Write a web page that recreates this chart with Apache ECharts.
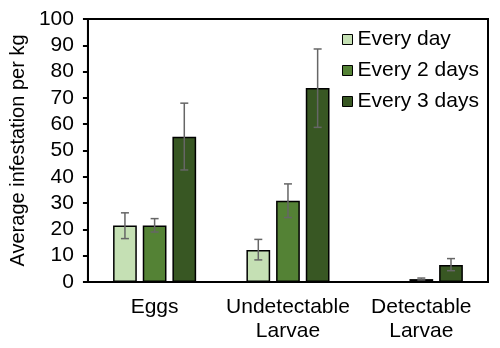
<!DOCTYPE html>
<html>
<head>
<meta charset="utf-8">
<script src="https://cdn.jsdelivr.net/npm/echarts@6/dist/echarts.min.js"></script>
<style>
  html, body { margin: 0; padding: 0; background: #fff; }
  #main { width: 500px; height: 348px; }
</style>
</head>
<body>
<div id="main"></div>
<script>
// categories and series
var categories = ['Eggs', 'Undetectable\nLarvae', 'Detectable\nLarvae'];
var seriesNames = ['Every day', 'Every 2 days', 'Every 3 days'];
var colors = ['#c5e0b4', '#548235', '#385723'];

var everyDay   = [21.5, 12.2, 0];
var every2Days = [21.5, 30.9, 1.1];
var every3Days = [55.2, 73.8, 6.5];

// error bar low/high
var errEveryDay   = [[16.5, 26.3], [8.4, 16.2], null];
var errEvery2Days = [[19.0, 24.1], [24.5, 37.3], [0.8, 1.5]];
var errEvery3Days = [[42.6, 68.0], [58.8, 88.6], [4.3, 8.9]];

var values = [everyDay, every2Days, every3Days];
var errors = [errEveryDay, errEvery2Days, errEvery3Days];

var BAR_FRAC = 0.178;
var GAP_FRAC = 0.25;

function errorSeries(idx) {
    var data = [];
    errors[idx].forEach(function (e, i) {
        if (e) data.push([i, e[0], e[1]]);
    });
    return {
        type: 'custom',
        name: seriesNames[idx] + ' err',
        data: data,
        z: 10,
        silent: true,
        renderItem: function (params, api) {
            var band = api.size([1, 0])[0];
            var bw = band * BAR_FRAC;
            var off = (idx - 1) * bw * (1 + GAP_FRAC);
            var lo = api.coord([api.value(0), api.value(1)]);
            var hi = api.coord([api.value(0), api.value(2)]);
            var x = lo[0] + off;
            var cap = 4;
            var style = {stroke: '#666', lineWidth: 1.5};
            return {
                type: 'group',
                children: [
                    {type: 'line', shape: {x1: x, y1: lo[1], x2: x, y2: hi[1]}, style: style},
                    {type: 'line', shape: {x1: x - cap, y1: lo[1], x2: x + cap, y2: lo[1]}, style: style},
                    {type: 'line', shape: {x1: x - cap, y1: hi[1], x2: x + cap, y2: hi[1]}, style: style}
                ]
            };
        }
    };
}

var series = [];
values.forEach(function (v, i) {
    series.push({
        type: 'bar',
        name: seriesNames[i],
        data: v,
        barWidth: (BAR_FRAC * 100) + '%',
        barGap: (GAP_FRAC * 100) + '%',
        itemStyle: {color: colors[i], borderColor: '#000', borderWidth: 1.5}
    });
});
[0, 1, 2].forEach(function (i) { series.push(errorSeries(i)); });

var chart = echarts.init(document.getElementById('main'));
chart.setOption({
    animation: false,
    textStyle: {fontFamily: 'Liberation Sans, Arial, sans-serif'},
    grid: {
        left: 83, right: 12, top: 19, bottom: 66,
        show: true, borderColor: '#000', borderWidth: 2
    },
    legend: {
        data: seriesNames,
        orient: 'vertical',
        left: 337, top: 24,
        itemWidth: 10, itemHeight: 10, itemGap: 10,
        icon: 'rect',
        itemStyle: {borderColor: '#000', borderWidth: 1},
        textStyle: {fontSize: 21, color: '#000'}
    },
    xAxis: {
        type: 'category',
        data: categories,
        axisLine: {lineStyle: {color: '#000', width: 2}},
        axisTick: {show: false},
        axisLabel: {color: '#000', fontSize: 21, lineHeight: 24, margin: 13, interval: 0}
    },
    yAxis: {
        type: 'value',
        min: 0, max: 100, interval: 10,
        name: 'Average infestation per kg',
        nameLocation: 'middle',
        nameGap: 56,
        nameTextStyle: {fontSize: 20, color: '#000'},
        splitLine: {show: false},
        axisLine: {show: true, lineStyle: {color: '#000', width: 2}},
        axisTick: {show: true, length: 5, lineStyle: {color: '#000', width: 2}},
        axisLabel: {color: '#000', fontSize: 21, margin: 14}
    },
    series: series
});
</script>
</body>
</html>
